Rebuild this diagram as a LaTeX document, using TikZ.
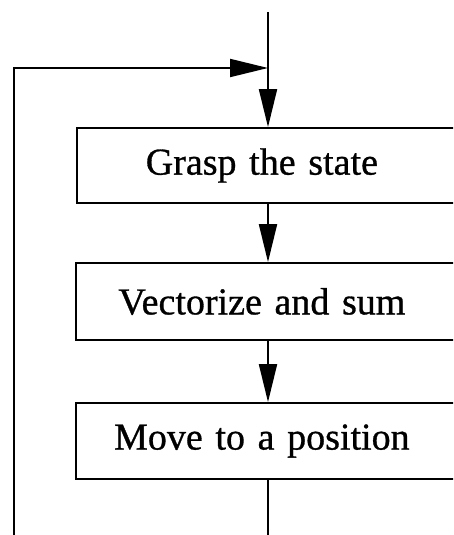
\documentclass[tikz,border=0pt]{standalone}
\usepackage{fontspec}
\setmainfont{Liberation Serif}
\newfontfamily\stepfont[FakeBold=0.8,WordSpace=0.8]{Liberation Serif}
\usetikzlibrary{arrows.meta}
\begin{document}
\begin{tikzpicture}[x=1pt,y=1pt,
  flow/.style={line width=2pt},
  tip/.style={-{Triangle[length=38pt,width=18pt]}},
  stepbox/.style={draw,line width=1.8pt,anchor=west,inner xsep=0pt,
    text width=400pt,align=left,
    font=\stepfont\fontsize{38}{40}\selectfont}]
  \useasboundingbox (0,0) rectangle (453,535);
  \clip (0,0) rectangle (453,535);

  % process steps (right side runs off the page)
  \node[stepbox,minimum height=75pt] (b1) at (76,369.5) {\makebox[370pt]{Grasp the state}};
  \node[stepbox,minimum height=77pt] (b2) at (75,233.5) {\makebox[372pt]{Vectorize and sum}};
  \node[stepbox,minimum height=76pt] (b3) at (75,94)    {\makebox[372pt]{Move to a position}};

  % connection points
  \coordinate (top)  at (268,523);
  \coordinate (join) at (268,467);
  \coordinate (out)  at (268,-5);
  \coordinate (back) at (14,-5);

  % main flow
  \draw[flow,tip] (top) -- (top |- b1.north);
  \draw[flow,tip] (top |- b1.south) -- (top |- b2.north);
  \draw[flow,tip] (top |- b2.south) -- (top |- b3.north);
  \draw[flow] (top |- b3.south) -- (out);

  % feedback loop
  \draw[flow,tip] (back) |- (join);
\end{tikzpicture}
\end{document}
